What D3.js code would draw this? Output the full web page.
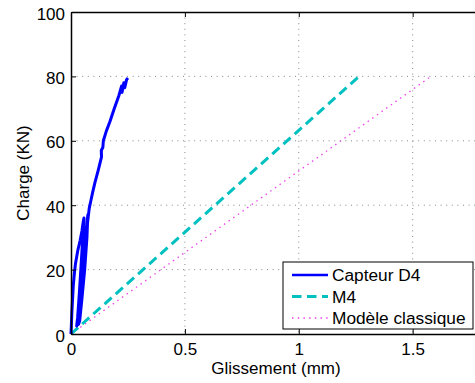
<!DOCTYPE html>
<html><head><meta charset="utf-8">
<script src="https://cdn.jsdelivr.net/npm/d3@7"></script>
<style>body{margin:0;background:#fff;}svg{display:block;font-family:"Liberation Sans",Arial,sans-serif;}</style>
</head><body>
<svg id="c" width="475" height="383"></svg>
<script>
// Data
const capteurX = [0,0.004,0.01,0.015,0.02,0.03,0.04,0.048,0.054,0.057,0.05,0.044,0.036,0.029,0.025,0.028,0.036,0.046,0.056,0.066,0.074,0.07,0.06,0.048,0.038,0.033,0.036,0.046,0.058,0.07,0.08,0.086,0.095,0.105,0.12,0.134,0.133,0.14,0.142,0.155,0.171,0.19,0.21,0.222,0.224,0.232,0.236,0.244,0.25];
const capteurY = [0,7,15,19,22,26,29,32,35,36,28,21,12,5,2.5,4,10,17,25,32,37,30,20,11,4,3,6,14,24,33,39,41,44,47,51,55,57,58,60,63,66,70,74,77,75,78,76.5,79,79.5];
const m4X = [0,1.265];
const m4Y = [0,80];
const classX = [0,1.58];
const classY = [0,80];
const xTicks = [0,0.5,1,1.5];
const xTickLabels = ["0","0.5","1","1.5"];
const yTicks = [0,20,40,60,80,100];
const yTickLabels = ["0","20","40","60","80","100"];
const legendLabels = ["Capteur D4","M4","Modèle classique"];

const L=71,T=12,R=481,B=334;
const svg=d3.select("#c");
const x=d3.scaleLinear().domain([0,1.8]).range([L,R]);
const y=d3.scaleLinear().domain([0,100]).range([B,T]);

const g=svg.append("g");
// grid
g.selectAll(".gx").data(xTicks.slice(1)).join("line")
 .attr("x1",d=>x(d)).attr("x2",d=>x(d)).attr("y1",T).attr("y2",B)
 .attr("stroke","#888").attr("stroke-width",1).attr("stroke-dasharray","1,4.6");
g.selectAll(".gy").data(yTicks.slice(1,-1)).join("line")
 .attr("x1",L).attr("x2",R).attr("y1",d=>y(d)).attr("y2",d=>y(d))
 .attr("stroke","#888").attr("stroke-width",1).attr("stroke-dasharray","1,4.6");

const line=d3.line().x(d=>x(d[0])).y(d=>y(d[1]));
// classique
g.append("path").attr("d",line(d3.zip(classX,classY))).attr("fill","none")
 .attr("stroke","#f040f0").attr("stroke-width",1.3).attr("stroke-dasharray","1.5,4.2");
// M4
g.append("path").attr("d",line(d3.zip(m4X,m4Y))).attr("fill","none")
 .attr("stroke","#00c0c0").attr("stroke-width",3).attr("stroke-dasharray","9.5,5.5");
// capteur
g.append("path").attr("d",line(d3.zip(capteurX,capteurY))).attr("fill","none")
 .attr("stroke","#0000ff").attr("stroke-width",3).attr("stroke-linejoin","round");

// axes (box)
const ax=d3.axisBottom(x).tickValues(xTicks).tickFormat((d,i)=>xTickLabels[i]).tickSizeInner(-5).tickSizeOuter(0).tickPadding(9);
const gx=svg.append("g").attr("transform",`translate(0,${B})`).call(ax);
const axT=d3.axisTop(x).tickValues(xTicks).tickFormat("").tickSizeInner(-5).tickSizeOuter(0);
svg.append("g").attr("transform",`translate(0,${T})`).call(axT);
const ay=d3.axisLeft(y).tickValues(yTicks).tickFormat((d,i)=>yTickLabels[i]).tickSizeInner(-5).tickSizeOuter(0).tickPadding(6);
const gy=svg.append("g").attr("transform",`translate(${L},0)`).call(ay);
const ayR=d3.axisRight(y).tickValues(yTicks).tickFormat("").tickSizeInner(-5).tickSizeOuter(0);
svg.append("g").attr("transform",`translate(${R},0)`).call(ayR);
svg.selectAll(".domain").attr("stroke","#000").attr("stroke-width",1.5);
svg.selectAll(".tick line").attr("stroke","#000").attr("stroke-width",1);
svg.selectAll(".tick text").attr("font-size","17px").attr("fill","#000").attr("font-family","Liberation Sans, Arial, sans-serif");
gy.selectAll(".tick text").attr("dy","0.42em");

// labels
svg.append("text").attr("x",(L+R)/2).attr("y",374).attr("text-anchor","middle").attr("font-size","17px").text("Glissement (mm)");
svg.append("text").attr("transform",`translate(29,${(T+B)/2}) rotate(-90)`).attr("text-anchor","middle").attr("font-size","17px").text("Charge (KN)");

// legend
const lg=svg.append("g");
lg.append("rect").attr("x",283).attr("y",262).attr("width",190).attr("height",67).attr("fill","#fff").attr("stroke","#000").attr("stroke-width",1);
const rowsY=[275,296.5,318];
const styles=[{c:"#0000ff",w:2.6,da:null},{c:"#00c0c0",w:3,da:"9.5,5.5"},{c:"#f040f0",w:1.3,da:"1.5,4.2"}];
legendLabels.forEach((t,i)=>{
  lg.append("line").attr("x1",292).attr("x2",328).attr("y1",rowsY[i]).attr("y2",rowsY[i])
   .attr("stroke",styles[i].c).attr("stroke-width",styles[i].w).attr("stroke-dasharray",styles[i].da);
  lg.append("text").attr("x",332).attr("y",rowsY[i]).attr("dy","0.36em").attr("font-size","17.3px").text(t);
});
</script>
</body></html>
